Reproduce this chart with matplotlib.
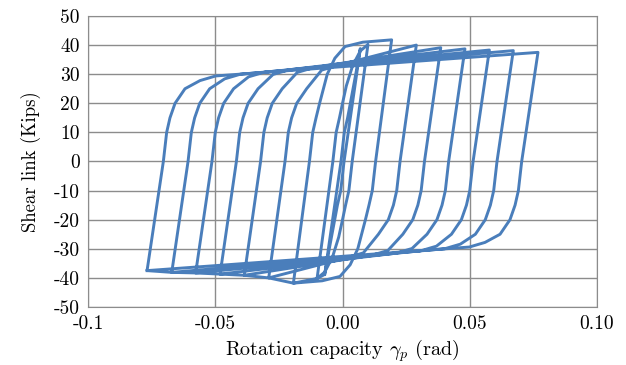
import matplotlib.pyplot as plt
import numpy as np

plt.rcParams['font.family'] = 'cmr10'
plt.rcParams['mathtext.fontset'] = 'cm'
plt.rcParams['axes.unicode_minus'] = False

# cycle amplitudes (rad) and peak shear (kips)
amp = [0.0070, 0.0100, 0.0193, 0.0290, 0.0386, 0.0481, 0.0577, 0.0671, 0.0768]
peak = [38.8, 40.2, 41.8, 40.0, 39.1, 38.7, 38.3, 38.1, 37.5]

# reloading knee of the big loops, offset from the reversal point
knee_dx = [0.0, 0.0064, 0.0077, 0.0090, 0.0110, 0.0149, 0.0208, 0.0270]
knee_v = [0.0, 10.0, 15.0, 20.0, 25.0]
# shear where each big loop reaches the upper band
join_v = [None, None, None, 33.0, 32.2, 31.5, 30.7, 30.0, 29.4]

# small loops: loading branch read point by point
small_x = {
    0: [-0.0070, -0.0006, 0.0007, 0.0020, 0.0035, 0.0052, 0.0070],
    1: [-0.0100, -0.0038, -0.0025, -0.0012, 0.0000, 0.0015, 0.0040,
        0.0070, 0.0100],
    2: [-0.0193, -0.0130, -0.0117, -0.0104, -0.0090, -0.0075, -0.0060,
        -0.0030, 0.0010, 0.0080, 0.0193],
}
small_y = {
    0: [-38.8, 0.0, 10.0, 15.0, 22.0, 30.0, 38.8],
    1: [-40.2, 0.0, 10.0, 15.0, 20.0, 26.0, 33.0, 38.0, 40.2],
    2: [-41.8, 0.0, 10.0, 15.0, 20.0, 25.0, 30.0, 35.5, 39.5, 41.0, 41.8],
}

xs, ys = [], []
for i, (a, v) in enumerate(zip(amp, peak)):
    if i in small_x:
        bx = np.array(small_x[i])
        by = np.array(small_y[i])
    else:
        bx = np.append(-a + np.array(knee_dx), a)
        by = np.array([-v] + knee_v + [join_v[i] - 1.6, join_v[i], v])
    # loading branch, then the mirrored unloading branch
    xs += list(bx) + list(-bx)
    ys += list(by) + list(-by)

fig = plt.figure(figsize=(6.26, 3.65), dpi=100)
ax = fig.add_axes([0.1406, 0.1589, 0.8131, 0.7973])
ax.plot(xs, ys, color='#4a7ebb', lw=2.1, solid_joinstyle='round')

ax.set_xlim(-0.1, 0.1)
ax.set_ylim(-50, 50)
ax.set_xticks([-0.1, -0.05, 0.0, 0.05, 0.1])
ax.set_xticklabels(['-0.1', '-0.05', '0.00', '0.05', '0.10'])
ax.set_yticks(range(-50, 51, 10))
ax.set_yticklabels([str(v) for v in range(-50, 51, 10)])
ax.tick_params(length=0, labelsize=14, pad=6)
ax.grid(True, color='#8c8c8c', lw=1.0)
ax.set_axisbelow(True)
for s in ax.spines.values():
    s.set_color('#8c8c8c')

ax.set_xlabel(r'Rotation capacity $\gamma_p$ (rad)', fontsize=14.5, labelpad=3)
ax.set_ylabel('Shear link (Kips)', fontsize=13.5, labelpad=9)

fig.savefig('out.png', dpi=100)
